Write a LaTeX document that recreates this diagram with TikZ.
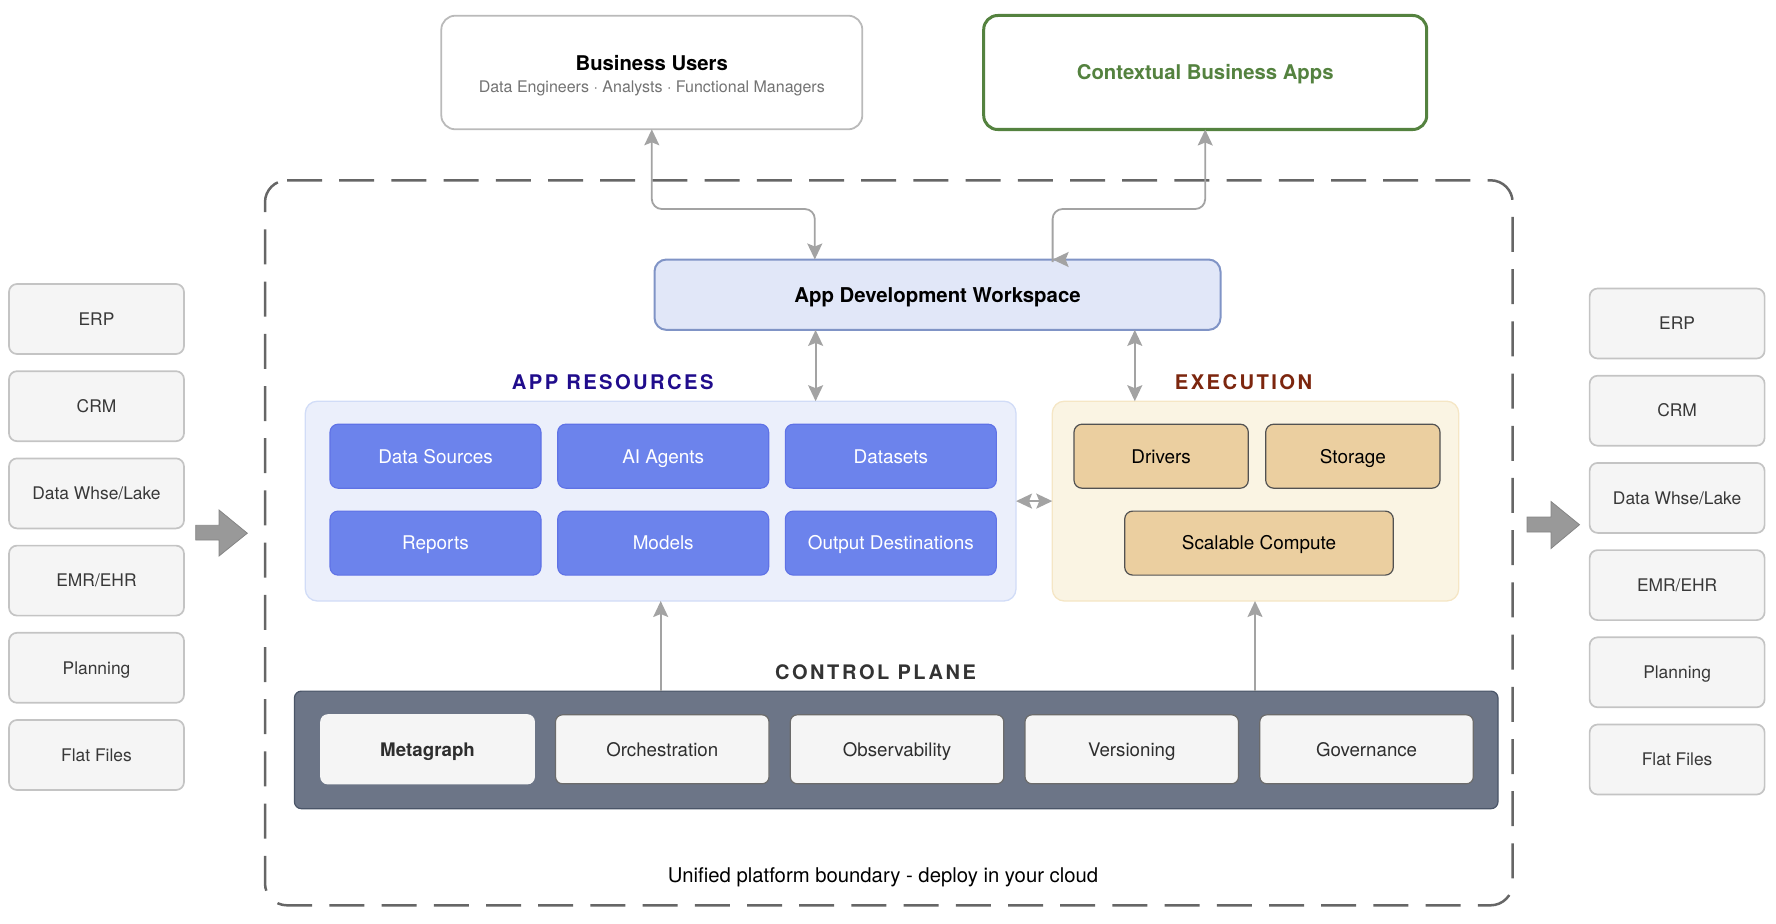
\documentclass[tikz,border=0pt]{standalone}
\usepackage{fontspec}
\setmainfont{TeX Gyre Heros}[Ligatures=NoCommon]
\usetikzlibrary{arrows.meta,calc}
\definecolor{cgray}{HTML}{A3A3A3}
\definecolor{srcfill}{HTML}{F5F5F5}
\definecolor{srcline}{HTML}{C4C4C4}
\definecolor{bluefill}{HTML}{6C83EC}
\definecolor{blueline}{HTML}{5F72E6}
\definecolor{tan}{HTML}{EBCFA0}
\definecolor{greenc}{HTML}{54823F}
\newcommand{\fs}[1]{\fontsize{#1}{#1}\selectfont}
\tikzset{
  x=1pt,y=-1pt,
  boxbase/.style={rectangle,inner sep=0pt,outer sep=0pt,anchor=north west,align=center,text depth=0pt},
  srcbox/.style={boxbase,text height=12.5pt,draw=srcline,fill=srcfill,line width=1.7pt,rounded corners=8pt,minimum width=175pt,minimum height=70pt,text=black!78,font=\fs{17.4}},
  bluebox/.style={boxbase,text height=13.6pt,draw=blueline,fill=bluefill,line width=1.1pt,rounded corners=8pt,minimum width=211pt,minimum height=64pt,text=white,font=\fs{18.9}},
  tanbox/.style={boxbase,text height=13.6pt,draw=black!68,fill=tan,line width=1.2pt,rounded corners=8pt,minimum height=64pt,text=black,font=\fs{18.9}},
  cpbox/.style={boxbase,text height=13.5pt,draw=black!58,fill=srcfill,line width=1.2pt,rounded corners=7pt,minimum width=213.5pt,minimum height=69pt,text=black!82,font=\fs{18.7}},
  headlabel/.style={inner sep=0pt,outer sep=0pt,font=\fs{20.2}\bfseries\addfontfeature{LetterSpace=12}},
  tipa/.tip={Stealth[length=16pt,width=15pt,inset=3pt]},
  conn/.style={draw=cgray,line width=1.8pt,rounded corners=10pt,{tipa}-{tipa}},
  connup/.style={draw=cgray,line width=1.8pt,-{tipa}},
  tiponly/.style={draw=cgray,line width=1.8pt,-{tipa}},
  blockarrow/.style={draw=black!48,fill=black!40,line width=0.8pt,line join=miter},
}
\begin{document}
\begin{tikzpicture}
\useasboundingbox (0,0) rectangle (1776,923);
% boundary
\draw[draw=black!60,line width=2.5pt,dash pattern=on 35pt off 17.2pt,rounded corners=22pt] (287,180.3) -- (1512.6,180.3) -- (1512.6,905.3) -- (265,905.3) -- (265,180.3) -- (288,180.3);
\node[inner sep=0pt,font=\fs{20.3},text=black] (bound) at (883,877) {Unified platform boundary - deploy in your cloud};

% top boxes
\node[boxbase,draw=black!27,fill=white,line width=1.8pt,rounded corners=14pt,minimum width=421pt,minimum height=113.6pt] (bu) at (441.3,15.7) {};
\node[inner sep=0pt,font=\fs{20.3}\bfseries,text=black] (bulabel) at (651.8,63) {Business Users};
\node[inner sep=0pt,font=\fs{16},text=black!55] (busub) at (651.8,88) {Data Engineers · Analysts · Functional Managers};
\node[boxbase,text height=14.6pt,draw=greenc,fill=white,line width=3pt,rounded corners=14pt,minimum width=443pt,minimum height=114pt,text=greenc,font=\fs{20.3}\bfseries] (ctx) at (983.7,15.5) {Contextual Business Apps};

% workspace
\node[boxbase,text height=14.7pt,draw={rgb,255:red,128;green,148;blue,198},fill={rgb,255:red,225;green,231;blue,248},line width=2pt,rounded corners=12pt,minimum width=566pt,minimum height=70.4pt,font=\fs{20.4}\bfseries,text=black] (ws) at (654.5,259.5) {App Development Workspace};

% panels
\node[boxbase,draw={rgb,255:red,209;green,220;blue,247},fill={rgb,255:red,235;green,239;blue,251},line width=1.3pt,rounded corners=12pt,minimum width=710.7pt,minimum height=199.8pt] (res) at (305.3,401.2) {};
\node[boxbase,draw={rgb,255:red,245;green,230;blue,197},fill={rgb,255:red,250;green,244;blue,227},line width=1.3pt,rounded corners=12pt,minimum width=406.4pt,minimum height=199.8pt] (exe) at (1052.3,401.2) {};
\node[headlabel,text={rgb,255:red,32;green,12;blue,140}] (reslabel) at (612.7,382) {APP RESOURCES};
\node[headlabel,text={rgb,255:red,124;green,38;blue,14}] (exelabel) at (1243.5,382) {EXECUTION};

% resources
\node[bluebox] (r1) at (330,424.2) {Data Sources};
\node[bluebox] (r2) at (557.7,424.2) {AI Agents};
\node[bluebox] (r3) at (785.3,424.2) {Datasets};
\node[bluebox] (r4) at (330,511.1) {Reports};
\node[bluebox] (r5) at (557.7,511.1) {Models};
\node[bluebox] (r6) at (785.3,511.1) {Output Destinations};

% execution
\node[tanbox,minimum width=174.3pt] (e1) at (1074,424.2) {Drivers};
\node[tanbox,minimum width=174.3pt] (e2) at (1265.7,424.2) {Storage};
\node[tanbox,minimum width=268.6pt] (e3) at (1124.7,511.1) {Scalable Compute};

% control plane
\node[boxbase,draw={rgb,255:red,74;green,85;blue,104},fill={rgb,255:red,108;green,117;blue,135},line width=1.2pt,rounded corners=7pt,minimum width=1203.6pt,minimum height=117.6pt] (cp) at (294.4,691.1) {};
\node[headlabel,text=black!80,font=\fs{20}\bfseries\addfontfeature{LetterSpace=13}] (cplabel) at (875.5,672.6) {CONTROL PLANE};
\node[cpbox,draw=srcfill,font=\fs{18.7}\bfseries] (c1) at (320.8,714.8) {Metagraph};
\node[cpbox] (c2) at (555.5,714.8) {Orchestration};
\node[cpbox] (c3) at (790.3,714.8) {Observability};
\node[cpbox] (c4) at (1025,714.8) {Versioning};
\node[cpbox] (c5) at (1259.8,714.8) {Governance};

% sources left
\node[srcbox] (l1) at (9,284) {ERP};
\node[srcbox] (l2) at (9,371.2) {CRM};
\node[srcbox] (l3) at (9,458.4) {Data Whse/Lake};
\node[srcbox] (l4) at (9,545.6) {EMR/EHR};
\node[srcbox] (l5) at (9,632.8) {Planning};
\node[srcbox] (l6) at (9,720) {Flat Files};
% sources right
\node[srcbox] (t1) at (1589.6,288.5) {ERP};
\node[srcbox] (t2) at (1589.6,375.7) {CRM};
\node[srcbox] (t3) at (1589.6,462.9) {Data Whse/Lake};
\node[srcbox] (t4) at (1589.6,550.1) {EMR/EHR};
\node[srcbox] (t5) at (1589.6,637.3) {Planning};
\node[srcbox] (t6) at (1589.6,724.5) {Flat Files};

% block arrows
\draw[blockarrow] (195.7,525.3) -- (219,525.3) -- (219,510) -- (247.3,533.2) -- (219,556) -- (219,540) -- (195.7,540) -- cycle;
\draw[blockarrow] (1527,517) -- (1551,517) -- (1551,501.5) -- (1579.5,524.7) -- (1551,548.5) -- (1551,532) -- (1527,532) -- cycle;

% connectors
\coordinate (wsA) at (814.8,259.5);
\coordinate (wsB) at (1052.6,259.5);
\coordinate (wsC) at (815.6,329.9);
\coordinate (wsD) at (1134.8,329.9);
\coordinate (resT) at (815.6,401.2);
\coordinate (exeT) at (1134.8,401.2);
\coordinate (cpA) at (660.7,691.1);
\coordinate (cpB) at (1255,691.1);
\coordinate (resB) at (660.7,601);
\coordinate (exeB) at (1255,601);
\draw[conn] (bu.south) -- (651.8,209) -- (814.8,209) -- (wsA);
\draw[draw=cgray,line width=1.8pt,rounded corners=10pt,{tipa}-] (ctx.south) -- (1205.2,209) -- (1052.6,209) -- (1052.6,262);
\draw[tiponly] (1066,259.5) -- (wsB);
\draw[conn] (wsC) -- (resT);
\draw[conn] (wsD) -- (exeT);
\draw[conn] (res.east) -- (exe.west);
\draw[connup] (cpA) -- (resB);
\draw[connup] (cpB) -- (exeB);
\end{tikzpicture}
\end{document}
